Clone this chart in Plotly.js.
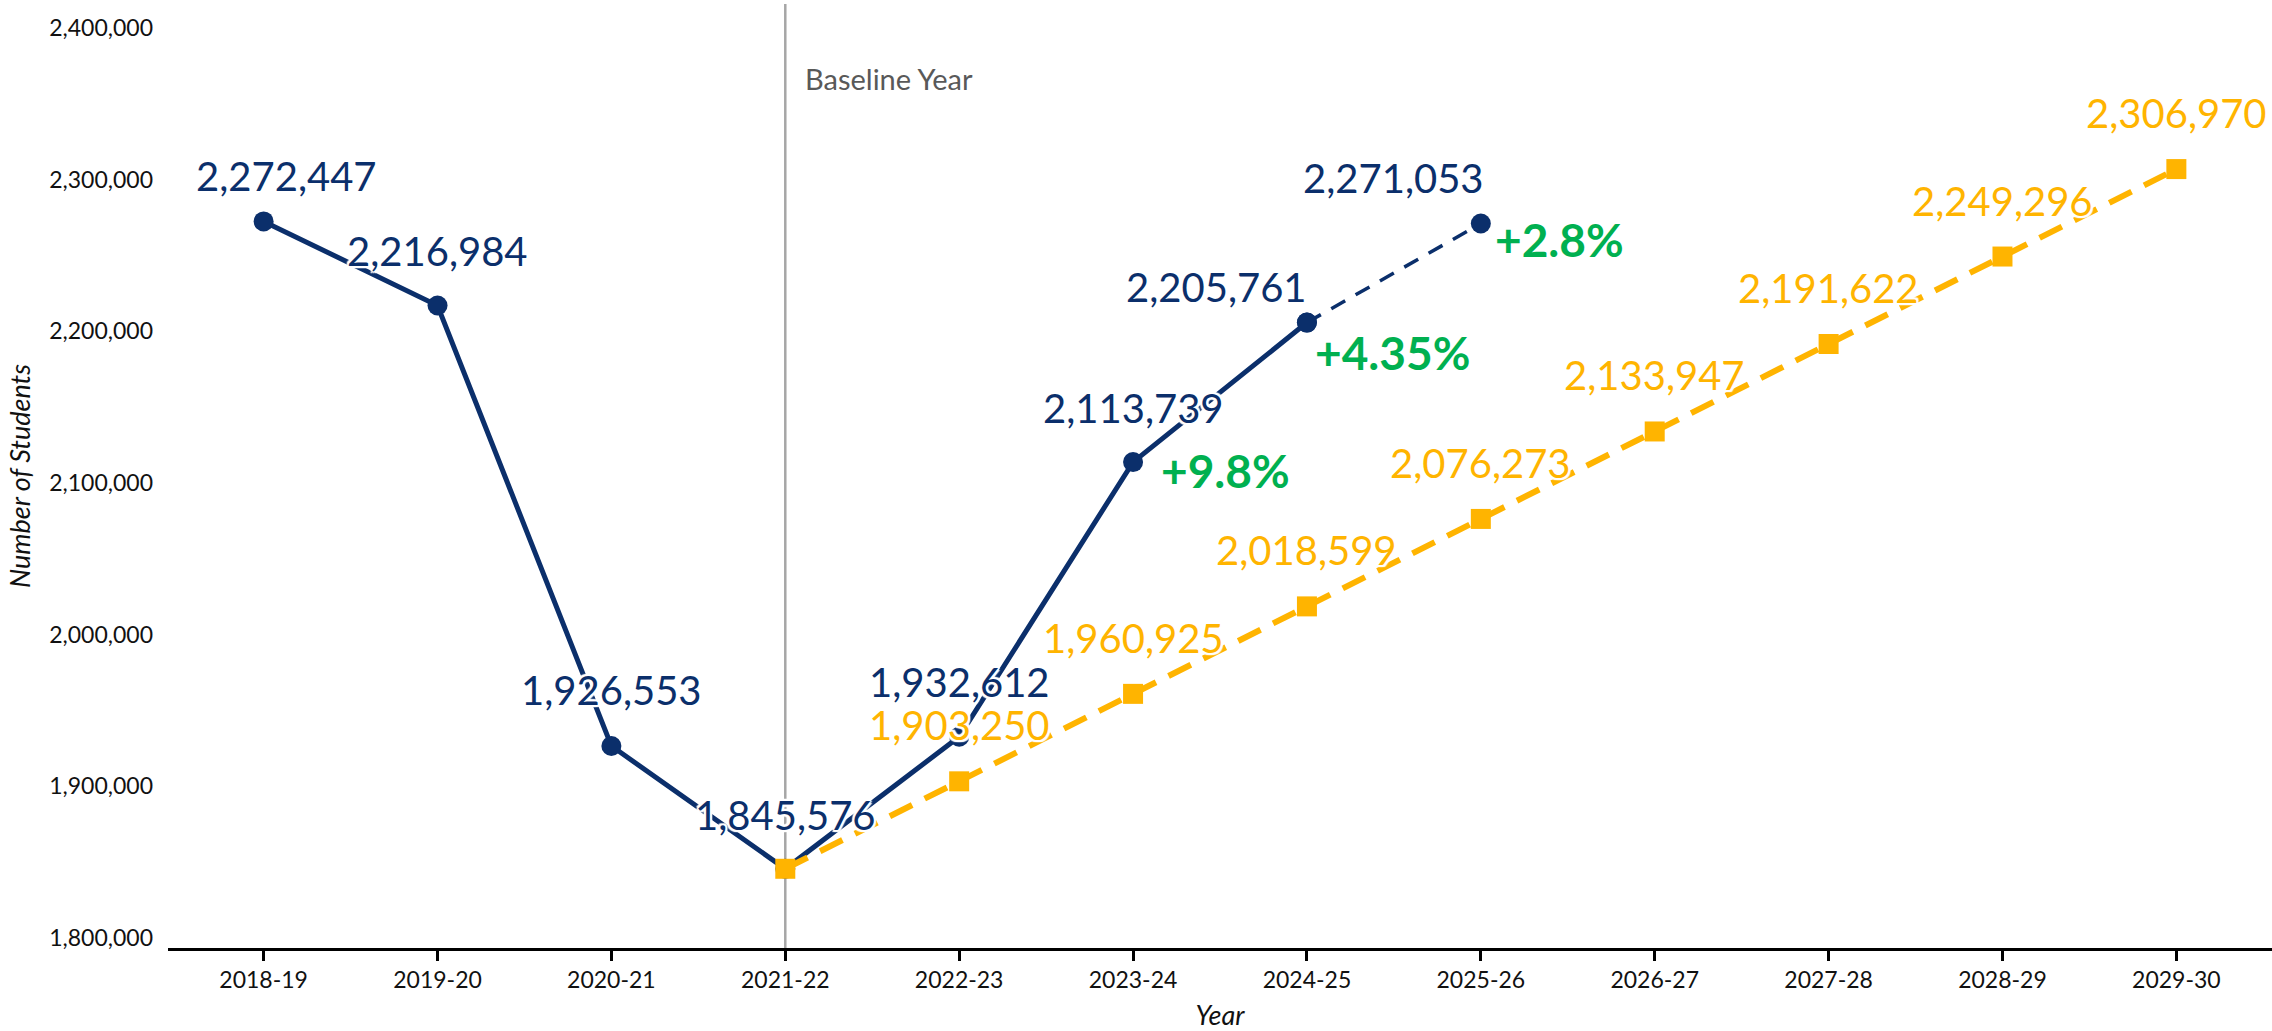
<!DOCTYPE html>
<html>
<head>
<meta charset="utf-8">
<script src="https://cdn.plot.ly/plotly-3.0.1.min.js"></script>
<style>
html,body{margin:0;padding:0;background:#fff;}
#chart{width:2272px;height:1031px;}
</style>
</head>
<body>
<div id="chart"></div>
<script>
// ---------- data ----------
const years = ['2018-19','2019-20','2020-21','2021-22','2022-23','2023-24','2024-25','2025-26','2026-27','2027-28','2028-29','2029-30'];
const actualYears = ['2018-19','2019-20','2020-21','2021-22','2022-23','2023-24','2024-25'];
const actualValues = [2272447, 2216984, 1926553, 1845576, 1932612, 2113739, 2205761];
const estimateYears = ['2024-25','2025-26'];
const estimateValues = [2205761, 2271053];
const projectedYears = ['2021-22','2022-23','2023-24','2024-25','2025-26','2026-27','2027-28','2028-29','2029-30'];
const projectedValues = [1845576, 1903250, 1960925, 2018599, 2076273, 2133947, 2191622, 2249296, 2306970];
const changeYears = ['2023-24','2024-25','2025-26'];
const changeValues = [2113739, 2205761, 2271053];
const changeLabels = ['+9.8%','+4.35%','+2.8%'];
const baselineYear = '2021-22';
const baselineLabel = 'Baseline Year';
const yTickVals = [1800000, 1900000, 2000000, 2100000, 2200000, 2300000, 2400000];
const xTitle = 'Year';
const yTitle = 'Number of Students';

// ---------- styles ----------
const NAVY = '#0B2F6B';
const GOLD = '#FFB400';
const GREEN = '#00B050';
const FONT = 'Lato, "Source Sans Pro", "Noto Sans", sans-serif';
const HALO = '2px 0 1px #fff, -2px 0 1px #fff, 0 2px 1px #fff, 0 -2px 1px #fff, 2px 2px 1px #fff, -2px -2px 1px #fff, 2px -2px 1px #fff, -2px 2px 1px #fff';

// label offsets (pixels) for the navy value labels
const navyLabelShift = [
  {xa:'center', dx:23, dy:45},
  {xa:'center', dx:0, dy:55},
  {xa:'center', dx:0, dy:56},
  {xa:'center', dx:0, dy:54},
  {xa:'center', dx:0, dy:55},
  {xa:'center', dx:0, dy:54},
  {xa:'right', dx:2, dy:36},
  {xa:'right', dx:5, dy:46}
];
const goldLabelDy = 56;
const changeShift = [{dx:26, dy:-8}, {dx:6, dy:-30}, {dx:12, dy:-16}];

const fmt = v => v.toLocaleString('en-US');

const traces = [
  {
    x: actualYears, y: actualValues, type: 'scatter', mode: 'lines+markers',
    line: {color: NAVY, width: 5},
    marker: {color: NAVY, size: 20, symbol: 'circle'},
    hoverinfo: 'x+y'
  },
  {
    x: estimateYears, y: estimateValues, type: 'scatter', mode: 'lines+markers',
    line: {color: NAVY, width: 3.5, dash: '16px,12px'},
    marker: {color: NAVY, size: 20, symbol: 'circle'},
    hoverinfo: 'x+y'
  },
  {
    x: projectedYears, y: projectedValues, type: 'scatter', mode: 'lines+markers',
    line: {color: GOLD, width: 6, dash: '25px,14px'},
    marker: {color: GOLD, size: 20, symbol: 'square'},
    hoverinfo: 'x+y'
  }
];

const annotations = [];
const navyLabelYears = actualYears.concat(estimateYears.slice(1));
const navyLabelValues = actualValues.concat(estimateValues.slice(1));
navyLabelYears.forEach((yr, i) => {
  const s = navyLabelShift[i];
  annotations.push({
    x: yr, y: navyLabelValues[i], xref: 'x', yref: 'y',
    text: fmt(navyLabelValues[i]), showarrow: false,
    xanchor: s.xa, yanchor: 'middle', xshift: s.dx, yshift: s.dy,
    font: {family: FONT, size: 40, color: NAVY, shadow: HALO}
  });
});
projectedYears.slice(1).forEach((yr, i) => {
  const v = projectedValues[i + 1];
  annotations.push({
    x: yr, y: v, xref: 'x', yref: 'y',
    text: fmt(v), showarrow: false,
    xanchor: 'center', yanchor: 'middle', yshift: goldLabelDy,
    font: {family: FONT, size: 40, color: GOLD, shadow: HALO}
  });
});
changeYears.forEach((yr, i) => {
  annotations.push({
    x: yr, y: changeValues[i], xref: 'x', yref: 'y',
    text: '<b>' + changeLabels[i] + '</b>', showarrow: false,
    xanchor: 'left', yanchor: 'middle', xshift: changeShift[i].dx, yshift: changeShift[i].dy,
    font: {family: FONT, size: 46, color: GREEN, weight: 'bold'}
  });
});
annotations.push({
  x: baselineYear, y: 0.9216, xref: 'x', yref: 'paper',
  text: baselineLabel, showarrow: false, xanchor: 'left', yanchor: 'middle', xshift: 18,
  font: {family: FONT, size: 29, color: '#595959'}
});

const layout = {
  width: 2272, height: 1031,
  margin: {l: 168, r: 0, t: 4, b: 83, pad: 0},
  paper_bgcolor: '#fff', plot_bgcolor: '#fff',
  showlegend: false,
  font: {family: FONT, color: '#111'},
  xaxis: {
    type: 'category', categoryorder: 'array', categoryarray: years,
    range: [-0.55, years.length - 0.45],
    showline: true, linecolor: '#000', linewidth: 2.5,
    ticks: 'outside', ticklen: 10, tickwidth: 2.5, tickcolor: '#000',
    showgrid: false, zeroline: false, automargin: false,
    tickfont: {family: FONT, size: 23, color: '#111'},
    title: {text: xTitle, font: {family: FONT, size: 27, style: 'italic', color: '#111'}, standoff: 30}
  },
  yaxis: {
    range: [1793340, 2415826],
    tickvals: yTickVals, tickformat: ',',
    showline: false, showgrid: false, zeroline: false, ticks: '',
    ticklabelstandoff: 14, automargin: false,
    tickfont: {family: FONT, size: 23, color: '#111'},
    title: {text: yTitle, font: {family: FONT, size: 27, style: 'italic', color: '#111'}, standoff: 10}
  },
  shapes: [{
    type: 'line', xref: 'x', yref: 'paper',
    x0: years.indexOf(baselineYear), x1: years.indexOf(baselineYear), y0: 0, y1: 1,
    line: {color: '#A6A6A6', width: 2.5}, layer: 'below'
  }],
  annotations: annotations
};

Plotly.newPlot('chart', traces, layout, {displayModeBar: false, responsive: false});
</script>
</body>
</html>
